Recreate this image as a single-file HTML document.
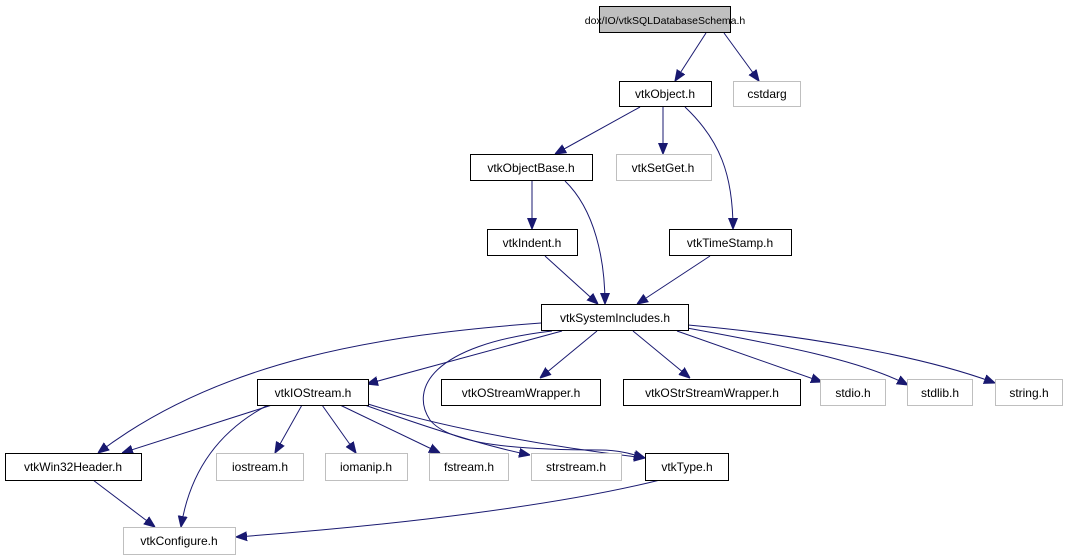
<!DOCTYPE html>
<html><head><meta charset="utf-8"><style>
html,body{margin:0;padding:0;background:#fff;}
svg{display:block;}
text{font-family:"Liberation Sans",sans-serif;font-size:12px;text-anchor:middle;fill:#000;}
.n{fill:#fff;stroke:#000;stroke-width:1;}
.g{fill:#fff;stroke:#bfbfbf;stroke-width:1;}
.e{fill:none;stroke:#191970;stroke-width:1;}
</style></head><body>
<svg width="1068" height="560" viewBox="0 0 1068 560">
<defs><marker id="a" viewBox="0 0 10 10" refX="10" refY="5" markerWidth="11" markerHeight="11" markerUnits="userSpaceOnUse" orient="auto"><path d="M0,1 L10,5 L0,9 z" fill="#191970" stroke="#191970"/></marker></defs>
<g marker-end="url(#a)">
<path class="e" d="M706,33 L675,81"/>
<path class="e" d="M724,33 L759,81"/>
<path class="e" d="M640,107 L555,154"/>
<path class="e" d="M663,107 L663,154"/>
<path class="e" d="M685,107 C720,140 733,175 733,229"/>
<path class="e" d="M532,181 L532,229"/>
<path class="e" d="M565,181 C595,210 605,260 605,304"/>
<path class="e" d="M545,256 L598,304"/>
<path class="e" d="M710,256 L637,304"/>
<path class="e" d="M562,331 L367,384"/>
<path class="e" d="M541,323 C380,335 220,360 98,453"/>
<path class="e" d="M597,331 L540,378"/>
<path class="e" d="M633,331 L690,378"/>
<path class="e" d="M677,331 L822,382"/>
<path class="e" d="M687,328 C780,345 860,360 908,385"/>
<path class="e" d="M688,325 C800,335 920,355 995,383"/>
<path class="e" d="M552,331 C430,345 410,390 430,420 C450,445 520,450 600,450 C620,450 635,455 645,458"/>
<path class="e" d="M272,405 L122,453"/>
<path class="e" d="M302,405 L275,453"/>
<path class="e" d="M322,405 L356,453"/>
<path class="e" d="M340,405 L440,453"/>
<path class="e" d="M362,404 C420,425 480,445 530,455"/>
<path class="e" d="M368,404 C450,430 560,448 645,458"/>
<path class="e" d="M268,405 C220,430 190,470 181,527"/>
<path class="e" d="M93,480 L155,527"/>
<path class="e" d="M660,480 C560,505 400,525 236,537"/>
</g>
<rect x="599.5" y="6.5" width="131" height="26" fill="#bfbfbf" stroke="#000"/><text x="665" y="24" style="font-size:10.5px">dox/IO/vtkSQLDatabaseSchema.h</text>
<rect class="n" x="619.5" y="81.5" width="92" height="25"/><text x="665" y="98">vtkObject.h</text>
<rect class="g" x="733.5" y="81.5" width="67" height="25"/><text x="767" y="98">cstdarg</text>
<rect class="n" x="470.5" y="154.5" width="122" height="26"/><text x="531" y="172">vtkObjectBase.h</text>
<rect class="g" x="616.5" y="154.5" width="95" height="26"/><text x="663" y="172">vtkSetGet.h</text>
<rect class="n" x="487.5" y="229.5" width="90" height="26"/><text x="532" y="247">vtkIndent.h</text>
<rect class="n" x="669.5" y="229.5" width="122" height="26"/><text x="730" y="247">vtkTimeStamp.h</text>
<rect class="n" x="541.5" y="304.5" width="147" height="26"/><text x="615" y="322">vtkSystemIncludes.h</text>
<rect class="n" x="257.5" y="379.5" width="111" height="26"/><text x="313" y="397">vtkIOStream.h</text>
<rect class="n" x="441.5" y="379.5" width="159" height="26"/><text x="521" y="397">vtkOStreamWrapper.h</text>
<rect class="n" x="623.5" y="379.5" width="177" height="26"/><text x="712" y="397">vtkOStrStreamWrapper.h</text>
<rect class="g" x="820.5" y="379.5" width="65" height="26"/><text x="853" y="397">stdio.h</text>
<rect class="g" x="907.5" y="379.5" width="65" height="26"/><text x="940" y="397">stdlib.h</text>
<rect class="g" x="995.5" y="379.5" width="67" height="26"/><text x="1029" y="397">string.h</text>
<rect class="n" x="5.5" y="453.5" width="136" height="27"/><text x="73" y="471">vtkWin32Header.h</text>
<rect class="g" x="216.5" y="453.5" width="87" height="27"/><text x="260" y="471">iostream.h</text>
<rect class="g" x="325.5" y="453.5" width="82" height="27"/><text x="366" y="471">iomanip.h</text>
<rect class="g" x="429.5" y="453.5" width="79" height="27"/><text x="469" y="471">fstream.h</text>
<rect class="g" x="531.5" y="453.5" width="90" height="27"/><text x="576" y="471">strstream.h</text>
<rect class="n" x="645.5" y="453.5" width="83" height="27"/><text x="687" y="471">vtkType.h</text>
<rect class="g" x="123.5" y="527.5" width="112" height="27"/><text x="179" y="545">vtkConfigure.h</text>
</svg>
</body></html>
